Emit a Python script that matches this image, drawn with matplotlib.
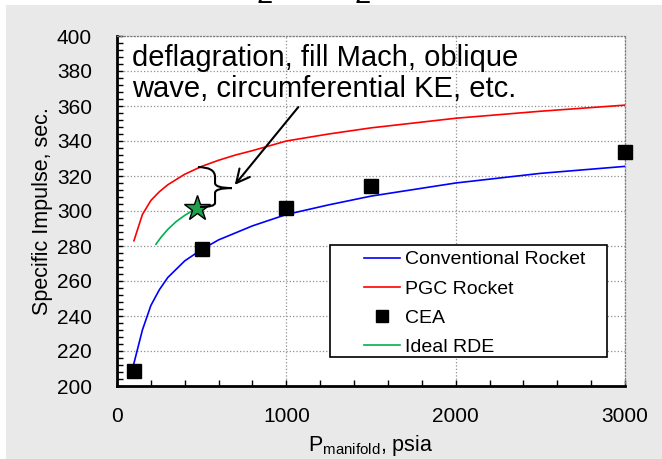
import matplotlib.pyplot as plt
from matplotlib.patches import Rectangle, PathPatch
from matplotlib.path import Path
from matplotlib.lines import Line2D
from matplotlib.ticker import MultipleLocator

plt.rcParams['font.family'] = ['Liberation Sans', 'DejaVu Sans']
plt.rcParams['mathtext.default'] = 'regular'

# data
conv_p = [100, 150, 200, 250, 300, 400, 500, 600, 800, 1000, 1250, 1500, 2000, 2500, 3000]
conv_isp = [213, 232, 246, 255, 262, 271.5, 278, 283.5, 291.5, 298, 303.5, 308.5, 316, 321.5, 325.5]

pgc_p = [100, 150, 200, 250, 300, 400, 500, 600, 700, 800, 1000, 1250, 1500, 2000, 2500, 3000]
pgc_isp = [283, 298, 306, 311, 315, 321, 325.5, 329, 332, 334.5, 340, 344, 347.5, 353, 357, 360.5]

cea_p = [100, 500, 1000, 1500, 3000]
cea_isp = [208.5, 278.5, 301.5, 314.5, 334]

rde_p = [230, 260, 300, 350, 400, 450, 475]
rde_isp = [281, 285, 289.5, 294, 297.5, 300.5, 302]

star_p = [475]
star_isp = [302]

note = 'deflagration, fill Mach, oblique\nwave, circumferential KE, etc.'

fig = plt.figure(figsize=(6.62, 4.59), dpi=100)
fig.patch.set_facecolor('white')
# grey panel behind the chart, cut-off title peeking above it
fig.text(298 / 662, 1 - 6 / 459, 'H$_2$ + O$_2$', ha='center', va='bottom', fontsize=30, zorder=0)
fig.patches.append(Rectangle((6 / 662, 0), 1, 1 - 5 / 459, transform=fig.transFigure,
                             facecolor='#e9e9e9', edgecolor='none', zorder=1))

ax = fig.add_axes([117 / 662, 1 - 386 / 459, (625 - 117) / 662, (386 - 36) / 459])
ax.set_zorder(2)
ax.set_facecolor('white')

ax.plot(conv_p, conv_isp, color='#0000ff', lw=1.2, zorder=3)
ax.plot(pgc_p, pgc_isp, color='#ff0000', lw=1.2, zorder=3)
ax.plot(rde_p, rde_isp, color='#00b050', lw=1.2, zorder=3)
ax.plot(cea_p, cea_isp, 's', color='black', ms=10, zorder=4, clip_on=False)
ax.plot(star_p, star_isp, '*', ms=19, markerfacecolor='#1fa04a', markeredgecolor='black',
        markeredgewidth=1.0, zorder=5)

ax.set_xlim(0, 3000)
ax.set_ylim(200, 400)
ax.xaxis.set_major_locator(MultipleLocator(1000))
ax.xaxis.set_minor_locator(MultipleLocator(200))
ax.yaxis.set_major_locator(MultipleLocator(20))
ax.yaxis.set_minor_locator(MultipleLocator(4))
ax.grid(True, which='major', color='#909090', ls=':', lw=0.9)
ax.set_axisbelow(True)

ax.tick_params(axis='both', which='both', direction='in', color='black', width=1)
ax.tick_params(axis='y', which='major', length=4, pad=18, labelsize=15)
ax.tick_params(axis='y', which='minor', length=4)
ax.tick_params(axis='x', which='major', length=4, pad=15, labelsize=15)
ax.tick_params(axis='x', which='minor', length=4)

for s in ['left', 'bottom']:
    ax.spines[s].set_linewidth(2)
    ax.spines[s].set_color('black')
for s in ['top', 'right']:
    ax.spines[s].set_linestyle(':')
    ax.spines[s].set_color('#808080')
    ax.spines[s].set_linewidth(0.9)

ax.set_ylabel('Specific Impulse, sec.', fontsize=15.5, labelpad=3)
ax.set_xlabel('$P_{manifold}$, psia', fontsize=15.5, labelpad=5)

# note text, brace and arrow
ax.text(88, 378.5, note, fontsize=21, va='center', ha='left', linespacing=1.12, zorder=6)
ax.annotate('', xy=(685, 313.7), xytext=(1081, 360.6),
            arrowprops=dict(arrowstyle='->', color='black', lw=1.5, mutation_scale=24))
verts = [(478, 325.1), (579, 325.1), (579, 319.4), (579, 316),
         (579, 313.1), (679, 313.1),
         (579, 313.1), (579, 310.3), (579, 304.6),
         (579, 302.3), (490, 302.3)]
codes = [Path.MOVETO, Path.CURVE3, Path.CURVE3, Path.LINETO,
         Path.CURVE3, Path.CURVE3,
         Path.CURVE3, Path.CURVE3, Path.LINETO,
         Path.CURVE3, Path.CURVE3]
ax.add_patch(PathPatch(Path(verts, codes), facecolor='none', edgecolor='black', lw=1.5, zorder=6))

# legend with a hand placed frame
x0 = (330 - 117) / 508
x1 = (607 - 117) / 508
y_top = (386 - 245) / 350
y_bot = (386 - 357) / 350
ax.add_patch(Rectangle((x0, y_bot), x1 - x0, y_top - y_bot, transform=ax.transAxes,
                       facecolor='white', edgecolor='black', lw=1.2, zorder=7))
handles = [Line2D([], [], color='#0000ff', lw=1.2),
           Line2D([], [], color='#ff0000', lw=1.2),
           Line2D([], [], ls='none', marker='s', color='black', ms=8),
           Line2D([], [], color='#00b050', lw=1.2)]
labels = ['Conventional Rocket', 'PGC Rocket', 'CEA', 'Ideal RDE']
leg = ax.legend(handles, labels, loc='upper left', bbox_to_anchor=((358 - 117) / 508, y_top),
                frameon=False, fontsize=14, handlelength=1.85, handletextpad=0.25,
                labelspacing=0.6, borderpad=0.3, borderaxespad=0)
leg.set_zorder(8)

fig.savefig('out.png', dpi=100, facecolor=fig.get_facecolor())
